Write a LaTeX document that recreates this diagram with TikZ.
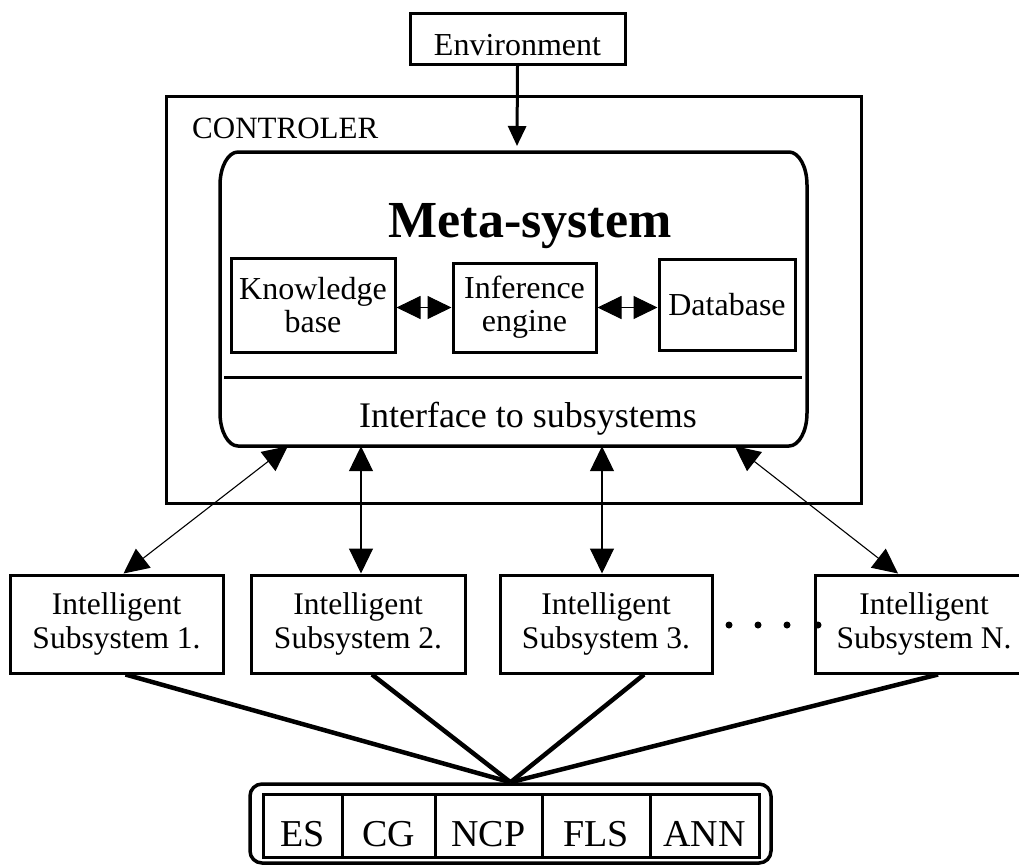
\documentclass[tikz,border=0pt]{standalone}
\usepackage{fontspec}
\setmainfont{Liberation Serif}
\usetikzlibrary{arrows.meta,calc}
\begin{document}
\begin{tikzpicture}[x=1pt,y=-1pt,
  box/.style={draw, line width=3pt, rectangle, inner sep=0pt, align=center},
  subbox/.style={box, minimum height=98pt, font=\fontsize{31.5}{34}\selectfont},
  inbox/.style={box, font=\fontsize{32}{33}\selectfont},
  cell/.style={draw, line width=3pt, rectangle, inner sep=0pt, minimum height=63pt,
    font=\fontsize{38}{40}\selectfont, text height=41pt, text depth=0pt},
  biarrow/.style={line width=1.1pt,
    {Triangle[length=25pt,width=24pt]}-{Triangle[length=25pt,width=24pt]}},
  inarrow/.style={line width=1pt,
    {Triangle[length=24pt,width=23pt]}-{Triangle[length=24pt,width=23pt]}},
  fan/.style={line width=4.5pt}
]
\useasboundingbox (0,0) rectangle (1019,865);

% environment and controller frame
\node[box, minimum width=215pt, minimum height=51pt, font=\fontsize{32}{34}\selectfont,
  text height=33pt, text depth=0pt] (env) at (517.5,38.5) {Environment};
\node[box, minimum width=695pt, minimum height=407pt] (ctrl) at (513.5,299.5) {};
\node[anchor=base west, inner sep=0pt, font=\fontsize{31}{33}\selectfont] (ctrltitle) at (192,138) {CONTROLER};

% meta-system block with elliptical corners
\node[minimum width=587pt, minimum height=294pt, inner sep=0pt] (meta) at (513.5,299) {};
\draw[line width=3.5pt] (220,185) arc[start angle=180,end angle=270,x radius=18,y radius=33]
  -- (789,152) arc[start angle=270,end angle=360,x radius=18,y radius=33]
  -- (807,413) arc[start angle=0,end angle=90,x radius=18,y radius=33]
  -- (238,446) arc[start angle=90,end angle=180,x radius=18,y radius=33] -- cycle;
\node[anchor=base, inner sep=0pt, font=\fontsize{52}{60}\selectfont\bfseries] (title) at (530,237) {Meta-system};
\draw[line width=3pt] (224,377.5) -- (802,377.5);
\node[anchor=base, inner sep=0pt, font=\fontsize{36}{38}\selectfont] (iface) at (528,427) {Interface to subsystems};

% inner components
\node[inbox, minimum width=164pt, minimum height=94pt] (kb) at (313,305) {Knowledge\\base};
\node[inbox, minimum width=143pt, minimum height=89pt] (ie) at (524.5,307.5) {Inference\\engine};
\node[inbox, minimum width=136pt, minimum height=91pt] (db) at (727,304.5) {Database};
\draw[inarrow] (kb.east |- ie.west) -- (ie.west);
\draw[inarrow] (ie.east) -- (ie.east -| db.west);

% environment input
\coordinate (envin) at (517,146);
\draw[line width=3pt, -{Triangle[length=20pt,width=18pt]}] (env.south) -- (envin);

% subsystems
\node[subbox, minimum width=213pt] (s1) at (116.5,624) {Intelligent\\Subsystem 1.};
\node[subbox, minimum width=214pt] (s2) at (358,624) {Intelligent\\Subsystem 2.};
\node[subbox, minimum width=212pt] (s3) at (606,624) {Intelligent\\Subsystem 3.};
\node[subbox, minimum width=218pt] (sN) at (924,624) {Intelligent\\Subsystem N.};
\foreach \x in {729,758,787,818} \fill (\x,625) circle (3.5);

% links between meta-system and subsystems
\draw[biarrow] ($(s1.north)+(7,0)$) -- ($(meta.south west)+(68,0)$);
\draw[biarrow] ([xshift=3pt]s2.north) -- ([xshift=3pt]s2.north |- meta.south);
\draw[biarrow] ([xshift=-4pt]s3.north) -- ([xshift=-4pt]s3.north |- meta.south);
\draw[biarrow] ($(sN.north)+(-26,0)$) -- ($(meta.south west)+(515,0)$);

% toolbox of techniques
\node[draw, line width=3.5pt, rounded corners=12pt, minimum width=521pt, minimum height=79pt,
  inner sep=0pt] (tools) at (510.5,823.5) {};
\node[cell, minimum width=79pt]  (es)  at (302.5,825.5) {ES};
\node[cell, minimum width=93pt]  (cg)  at (388.5,825.5) {CG};
\node[cell, minimum width=107pt] (ncp) at (488.5,825.5) {NCP};
\node[cell, minimum width=108pt] (fls) at (596,825.5) {FLS};
\node[cell, minimum width=109pt] (ann) at (704.5,825.5) {ANN};

% subsystems share the toolbox
\draw[fan] ($(s1.south)+(9,0)$) -- (tools.north);
\draw[fan] ($(s2.south)+(14,0)$) -- (tools.north);
\draw[fan] ($(s3.south)+(38,0)$) -- (tools.north);
\draw[fan] ($(sN.south)+(14,0)$) -- (tools.north);
\end{tikzpicture}
\end{document}
